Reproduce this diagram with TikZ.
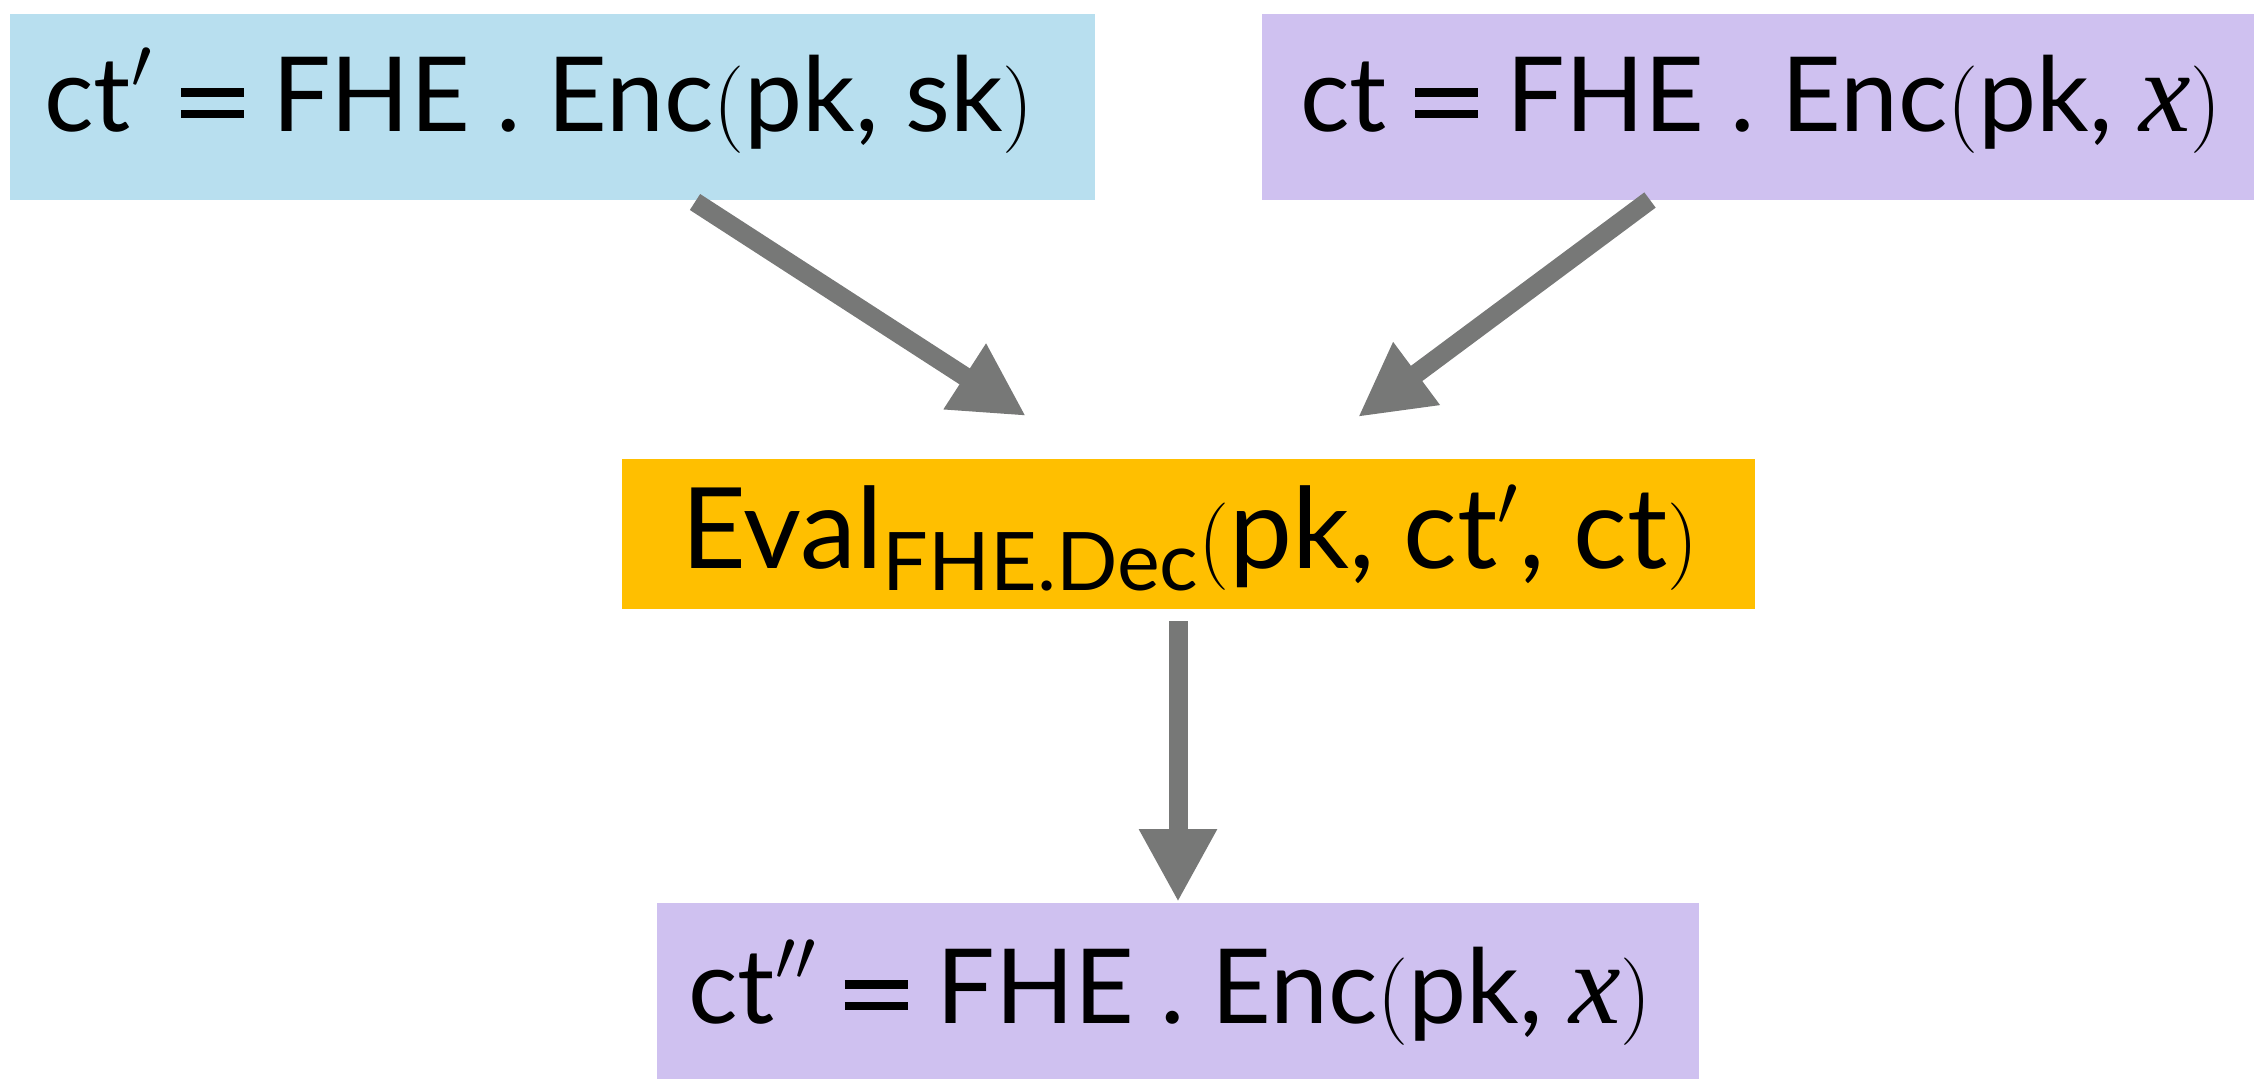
\documentclass[tikz,border=0pt]{standalone}
\usepackage[no-math]{fontspec}
\setmainfont{Lato}
\newfontfamily\serifit{Liberation Serif}
\usetikzlibrary{arrows.meta}

\definecolor{encblue}{RGB}{184,223,239}
\definecolor{encpurple}{RGB}{207,193,240}
\definecolor{evalorange}{RGB}{255,191,0}
\definecolor{flowgray}{RGB}{119,120,119}

\newcommand{\bigtext}{\fontsize{29.5}{32}\selectfont}
\newcommand{\evaltext}{\fontsize{32}{34}\selectfont}
\newcommand{\subtext}[1]{\raisebox{-6.3pt}{\fontsize{23}{25}\selectfont #1}}
% heavy equals sign built from two bars
\newcommand{\heavyeq}{\hspace{8pt}\mbox{\rlap{\rule[3.7pt]{18pt}{2.4pt}}\rule[9.7pt]{18pt}{2.4pt}}\hspace{8pt}}
% raised primes
\newcommand{\pr}{\raisebox{3pt}{$^{\prime}$}}
\newcommand{\ppr}{\raisebox{3pt}{$^{\prime\prime}$}}
\newcommand{\varx}{{\serifit\itshape\fontsize{33}{34}\selectfont x}}

\tikzset{
  box/.style={inner sep=0pt, outer sep=0pt, anchor=center},
  formula/.style={inner sep=0pt, anchor=base, font=\bigtext, text=black},
  flow/.style={draw=flowgray, line width=1.9mm,
    -{Triangle[length=7.3mm,width=7.3mm]}},
}

\begin{document}
\begin{tikzpicture}
  \useasboundingbox (0,0) rectangle (22.54,-10.79);

  % key ciphertext and input ciphertext
  \node[box, fill=encblue, minimum width=10.85cm, minimum height=1.86cm]
    (ctsk) at (5.525,-1.07) {};
  \node[formula] (ctsk-f) at (5.39,-1.31) {ct\pr\heavyeq FHE . Enc$($pk, sk$)$};

  \node[box, fill=encpurple, minimum width=9.92cm, minimum height=1.86cm]
    (ctx) at (17.58,-1.07) {};
  \node[formula] (ctx-f) at (17.61,-1.31) {ct\heavyeq FHE . Enc$($pk, \varx$)$};

  % homomorphic evaluation of the decryption circuit
  \node[box, fill=evalorange, minimum width=11.33cm, minimum height=1.50cm]
    (eval) at (11.885,-5.34) {};
  \node[formula, font=\evaltext] (eval-f) at (11.90,-5.68)
    {Eval\subtext{FHE.Dec}$($pk, ct\pr, ct$)$};

  % refreshed ciphertext
  \node[box, fill=encpurple, minimum width=10.42cm, minimum height=1.76cm]
    (ctout) at (11.78,-9.91) {};
  \node[formula] (ctout-f) at (11.70,-10.23) {ct\ppr\heavyeq FHE . Enc$($pk, \varx$)$};

  % arrow end points
  \coordinate (s1) at ([xshift=6.85cm,yshift=-0.02cm]ctsk.south west);
  \coordinate (t1) at ([xshift=4.04cm,yshift=0.43cm]eval.north west);
  \coordinate (s2) at ([xshift=3.88cm]ctx.south west);
  \coordinate (t2) at ([xshift=7.36cm,yshift=0.42cm]eval.north west);
  \coordinate (s3) at ([yshift=-0.12cm]eval.south -| ctout.north);
  \coordinate (t3) at ([yshift=0.01cm]ctout.north);

  \draw[flow] (s1) -- (t1);
  \draw[flow] (s2) -- (t2);
  \draw[flow] (s3) -- (t3);
\end{tikzpicture}
\end{document}
